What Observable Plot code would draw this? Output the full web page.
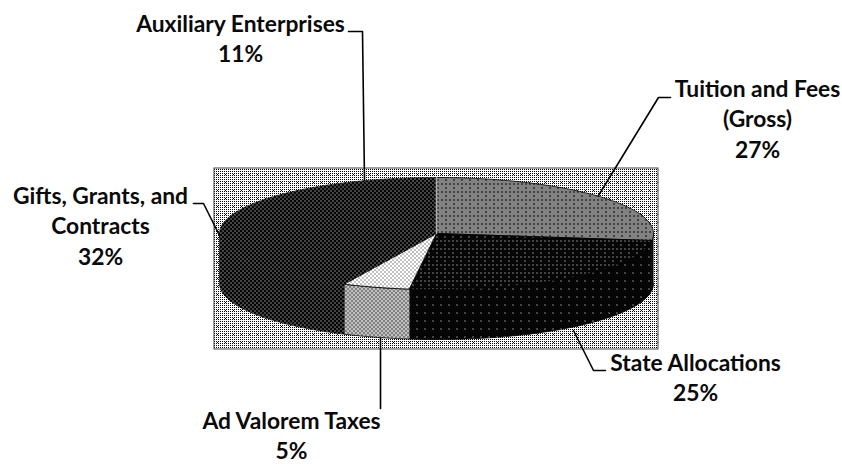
<!DOCTYPE html>
<html>
<head>
<meta charset="utf-8">
<script src="https://cdn.jsdelivr.net/npm/d3@7"></script>
<script src="https://cdn.jsdelivr.net/npm/@observablehq/plot@0.6"></script>
<style>html,body{margin:0;padding:0;background:#fff}svg{display:block}</style>
</head>
<body>
<div id="chart"></div>
<script>
// Data
const categories = ["Tuition and Fees\n(Gross)", "State Allocations", "Ad Valorem Taxes", "Gifts, Grants, and\nContracts", "Auxiliary Enterprises"];
const shares = [27, 25, 5, 32, 11];

// Layout of the pseudo-3D pie, in page units
const pie = {cx: 436, cy: 233, rx: 217, ry: 56, depth: 50};
const panel = {x1: 214, x2: 658, y1: 168, y2: 349};

// Label anchors and leader lines, in the same order as categories
const labelAt = [[757, 74.3], [695, 348.3], [291, 406.5], [100, 181.3], [240, 9.3]];
const leaders = [
  [[670, 97], [658, 97], [598, 195]],
  [[573, 330], [593, 370], [605, 370]],
  [[380, 338], [380, 408]],
  [[193, 203], [203, 203], [219, 235]],
  [[348, 31], [362, 31], [364, 180]]
];

// White fraction of each dither pattern
const tones = {back: 0.74, tuitionTop: 0.45, stateTop: 0.05, stateSide: 0.008, adTop: 0.88, adSide: 0.62, darkTop: 0.13, darkSide: 0.13};
const topTone = ["tuitionTop", "stateTop", "adTop", "darkTop", "darkTop"];
const sideTone = ["stateSide", "stateSide", "adSide", "darkSide", "darkSide"];

const bayer = [
  [0,32,8,40,2,34,10,42],[48,16,56,24,50,18,58,26],
  [12,44,4,36,14,46,6,38],[60,28,52,20,62,30,54,22],
  [3,35,11,43,1,33,9,41],[51,19,59,27,49,17,57,25],
  [15,47,7,39,13,45,5,37],[63,31,55,23,61,29,53,21]];

function patterns() {
  const defs = d3.create("svg:defs");
  for (const [name, white] of Object.entries(tones)) {
    const p = defs.append("pattern").attr("id", "p-" + name)
      .attr("patternUnits", "userSpaceOnUse").attr("width", 8).attr("height", 8)
      .attr("shape-rendering", "crispEdges");
    p.append("rect").attr("width", 8).attr("height", 8).attr("fill", "#fff");
    bayer.forEach((row, j) => row.forEach((v, i) => {
      if ((v + 0.5) / 64 >= white) p.append("rect").attr("x", i).attr("y", j).attr("width", 1).attr("height", 1).attr("fill", "#050505");
    }));
  }
  return defs.node();
}

// Slice angles (clockwise from 12 o'clock) follow from the shares
const total = d3.sum(shares);
let acc = 0;
const slices = shares.map((s, i) => {
  const a0 = acc / total * 2 * Math.PI; acc += s;
  return {i, a0, a1: acc / total * 2 * Math.PI};
});
const rim = (a, drop = 0) => ({x: pie.cx + pie.rx * Math.sin(a), y: pie.cy - pie.ry * Math.cos(a) + drop});
function arc(a0, a1, drop = 0) {
  const n = Math.max(2, Math.ceil((a1 - a0) / 0.02));
  return d3.range(n + 1).map(k => rim(a0 + (a1 - a0) * k / n, drop));
}
const topPoly = s => [{x: pie.cx, y: pie.cy}, ...arc(s.a0, s.a1), {x: pie.cx, y: pie.cy}];
function sidePoly(s) {
  const a0 = Math.max(s.a0, Math.PI / 2), a1 = Math.min(s.a1, 3 * Math.PI / 2);
  if (a1 <= a0) return null;
  return [...arc(a0, a1), ...arc(a0, a1, pie.depth).reverse()];
}

const x = d => d.x, y = d => d.y;
const marks = [
  patterns,
  Plot.rect([panel], {x1: "x1", x2: "x2", y1: "y1", y2: "y2", fill: "url(#p-back)", stroke: "#444", strokeWidth: 1})
];
for (const s of slices) {
  const p = sidePoly(s);
  const tone = `url(#p-${sideTone[s.i]})`;
  if (p) marks.push(Plot.line(p, {x, y, fill: tone, stroke: s.i === 2 ? "#000" : tone, strokeWidth: 0.8, curve: "linear"}));
}
for (const s of slices) {
  const p = topPoly(s);
  const tone = `url(#p-${topTone[s.i]})`;
  marks.push(Plot.line(p, {x, y, fill: tone, stroke: s.i >= 3 ? tone : "#000", strokeWidth: 0.8, curve: "linear"}));
}
// pale seam between the last and first slices
marks.push(Plot.line([{x: pie.cx, y: pie.cy}, rim(0)], {x, y, stroke: "#aaa", strokeWidth: 1.5}));
leaders.forEach(l => marks.push(Plot.line(l.map(([px, py]) => ({x: px, y: py})), {x, y, stroke: "#000", strokeWidth: 1.6, curve: "linear"})));
marks.push(Plot.text(categories.map((c, i) => ({t: `${c}\n${shares[i]}%`, x: labelAt[i][0], y: labelAt[i][1]})), {
  x, y, text: "t", fill: "#0a0a0a", fontSize: 22.8, fontWeight: 700, lineHeight: 1.34, textAnchor: "middle", lineAnchor: "top"
}));

const chart = Plot.plot({
  width: 842, height: 464, margin: 0,
  x: {domain: [0, 842], range: [0, 842], axis: null},
  y: {domain: [0, 464], range: [0, 464], axis: null},
  style: {fontFamily: "Lato, 'Open Sans', sans-serif", background: "#fff"},
  marks
});
document.getElementById("chart").appendChild(chart);
</script>
</body>
</html>
